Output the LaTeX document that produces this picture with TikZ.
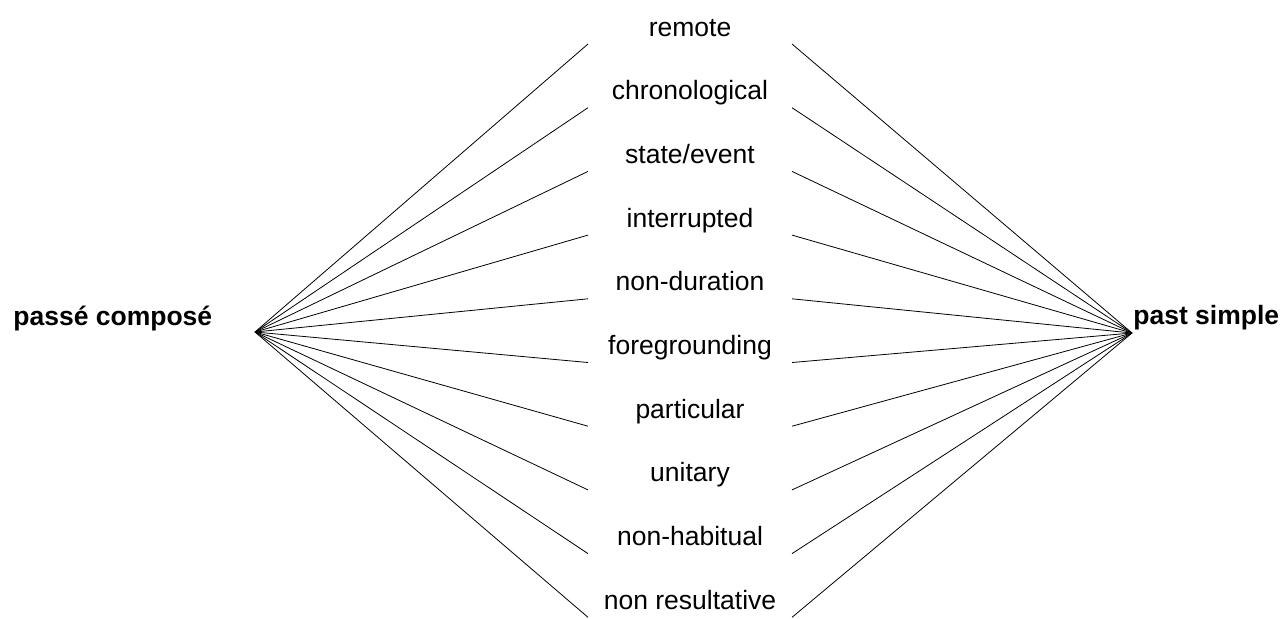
\documentclass[tikz,border=0pt]{standalone}
\usepackage{fontspec}
\setmainfont{Liberation Sans}

\begin{document}
\begin{tikzpicture}[x=0.5pt,y=-0.5pt]
\tikzstyle{feature}=[inner sep=0pt,outer sep=0pt,minimum width=102pt,text depth=4pt,anchor=south,font=\fontsize{13.25pt}{16pt}\selectfont]
\tikzstyle{tense}=[inner sep=0pt,anchor=base west,font=\fontsize{13.25pt}{16pt}\selectfont\bfseries]
\tikzstyle{link}=[line width=0.4pt]
\useasboundingbox (0,0) rectangle (1284,618);
\coordinate (pc) at (255,332);
\coordinate (ps) at (1132,333);
\path (13,325) node[tense](pclabel){passé composé} (1133,324) node[tense](pslabel){past simple};
\path (690,44) node[feature](f1){remote}
      (690,107.7) node[feature](f2){chronological}
      (690,171.4) node[feature](f3){state/event}
      (690,235.1) node[feature](f4){interrupted}
      (690,298.8) node[feature](f5){non-duration}
      (690,362.5) node[feature](f6){foregrounding}
      (690,426.2) node[feature](f7){particular}
      (690,489.9) node[feature](f8){unitary}
      (690,553.6) node[feature](f9){non-habitual}
      (690,617.3) node[feature](f10){non resultative};
\draw[link] (pc) -- (f1.south west);
\draw[link] (pc) -- (f2.south west);
\draw[link] (pc) -- (f3.south west);
\draw[link] (pc) -- (f4.south west);
\draw[link] (pc) -- (f5.south west);
\draw[link] (pc) -- (f6.south west);
\draw[link] (pc) -- (f7.south west);
\draw[link] (pc) -- (f8.south west);
\draw[link] (pc) -- (f9.south west);
\draw[link] (pc) -- (f10.south west);
\draw[link] (f1.south east) -- (ps);
\draw[link] (f2.south east) -- (ps);
\draw[link] (f3.south east) -- (ps);
\draw[link] (f4.south east) -- (ps);
\draw[link] (f5.south east) -- (ps);
\draw[link] (f6.south east) -- (ps);
\draw[link] (f7.south east) -- (ps);
\draw[link] (f8.south east) -- (ps);
\draw[link] (f9.south east) -- (ps);
\draw[link] (f10.south east) -- (ps);
\end{tikzpicture}
\end{document}
